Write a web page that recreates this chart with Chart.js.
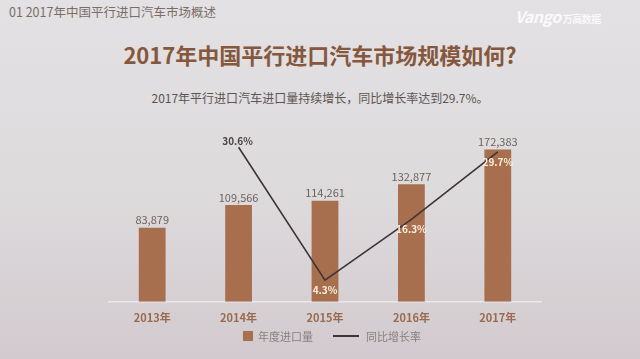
<!DOCTYPE html>
<html lang="zh">
<head>
  <meta charset="UTF-8">
  <title>2017年中国平行进口汽车市场规模</title>
  <script src="https://cdn.jsdelivr.net/npm/chart.js"></script>
  <style>
    html, body { margin: 0; padding: 0; }
    body {
      width: 640px; height: 359px; overflow: hidden; position: relative;
      background: linear-gradient(180deg, #e3e1e3 0%, #dddadc 55%, #d2cace 100%);
      font-family: "Noto Sans CJK SC", "Noto Sans", sans-serif;
    }
    .abs { position: absolute; white-space: nowrap; }
    #header { left: 9px; top: 2px; font-size: 12.5px; color: #7b6d66; }
    #logo { left: 515px; top: 4px; font-size: 16px; color: #fafafa; font-style: italic; font-weight: bold; letter-spacing: -0.5px; }
    #logo span { font-size: 10px; font-style: normal; margin-left: 2px; }
    #title { left: 0; width: 640px; text-align: center; top: 38px; font-size: 22px; font-weight: bold; color: #85573c; }
    #subtitle { left: 0; width: 640px; text-align: center; top: 89px; font-size: 12px; color: #5c5452; }
    #chartWrap { position: absolute; left: 0; top: 0; width: 640px; height: 359px; }
    #legend { left: 243px; top: 328px; font-size: 11px; color: #8a7f7c; display: flex; align-items: center; }
    .sw { display: inline-block; width: 10px; height: 10px; background: #a86f4f; margin-right: 5px; }
    .ln { display: inline-block; width: 26px; height: 1.5px; background: #3d3535; margin: 0 7px 0 20px; }
  </style>
</head>
<body>
  <div id="header" class="abs">01 2017年中国平行进口汽车市场概述</div>
  <div id="logo" class="abs">Vango<span>万高数据</span></div>
  <div id="title" class="abs">2017年中国平行进口汽车市场规模如何?</div>
  <div id="subtitle" class="abs">2017年平行进口汽车进口量持续增长，同比增长率达到29.7%。</div>
  <div id="chartWrap"><canvas id="chart" width="640" height="359"></canvas></div>
  <div id="legend" class="abs"><span class="sw"></span>年度进口量<span class="ln"></span>同比增长率</div>

  <script>
    const years = ['2013年', '2014年', '2015年', '2016年', '2017年'];
    const volume = [83879, 109566, 114261, 132877, 172383];
    const growth = [null, 30.6, 4.3, 16.3, 29.7];

    // draw value labels above bars and rate labels near line points
    const labelPlugin = {
      id: 'labels',
      afterDatasetsDraw(chart) {
        const ctx = chart.ctx;
        ctx.save();
        ctx.textAlign = 'center';
        ctx.font = '11px "Noto Sans CJK SC", sans-serif';
        chart.getDatasetMeta(0).data.forEach((bar, i) => {
          ctx.fillStyle = '#6f625d';
          ctx.textBaseline = 'bottom';
          ctx.fillText(volume[i].toLocaleString('en-US'), bar.x, bar.y - 2);
        });
        ctx.font = 'bold 10px "Noto Sans CJK SC", sans-serif';
        chart.getDatasetMeta(1).data.forEach((pt, i) => {
          if (growth[i] == null) return;
          const txt = growth[i] + '%';
          if (i === 1) {
            ctx.fillStyle = '#4a4242';
            ctx.textBaseline = 'bottom';
            ctx.fillText(txt, pt.x - 1, pt.y - 1);
          } else {
            ctx.fillStyle = '#fbf0dc';
            ctx.textBaseline = 'top';
            ctx.fillText(txt, pt.x, pt.y + 5);
          }
        });
        ctx.restore();
      }
    };

    new Chart(document.getElementById('chart'), {
      data: {
        labels: years,
        datasets: [{
          type: 'bar',
          label: '年度进口量',
          data: volume,
          backgroundColor: '#a86f4f',
          barPercentage: 0.31,
          categoryPercentage: 1,
          yAxisID: 'y',
          order: 2
        }, {
          type: 'line',
          label: '同比增长率',
          data: growth,
          borderColor: '#3d3535',
          borderWidth: 1.6,
          pointRadius: 0,
          tension: 0,
          yAxisID: 'y2',
          order: 1
        }]
      },
      options: {
        responsive: false,
        animation: false,
        layout: { padding: { left: 109, right: 99, top: 125, bottom: 26 } },
        plugins: { legend: { display: false }, tooltip: { enabled: false } },
        scales: {
          x: {
            grid: { display: false, drawTicks: false },
            border: { color: '#ece9ea', width: 1.5 },
            ticks: {
              padding: 9,
              color: '#9a6a4e',
              font: { family: '"Noto Sans CJK SC", sans-serif', size: 11, weight: 'bold' }
            }
          },
          y: { display: false, min: 0, max: 200000 },
          y2: { display: false, min: 0, max: 35 }
        }
      },
      plugins: [labelPlugin]
    });
  </script>
</body>
</html>
